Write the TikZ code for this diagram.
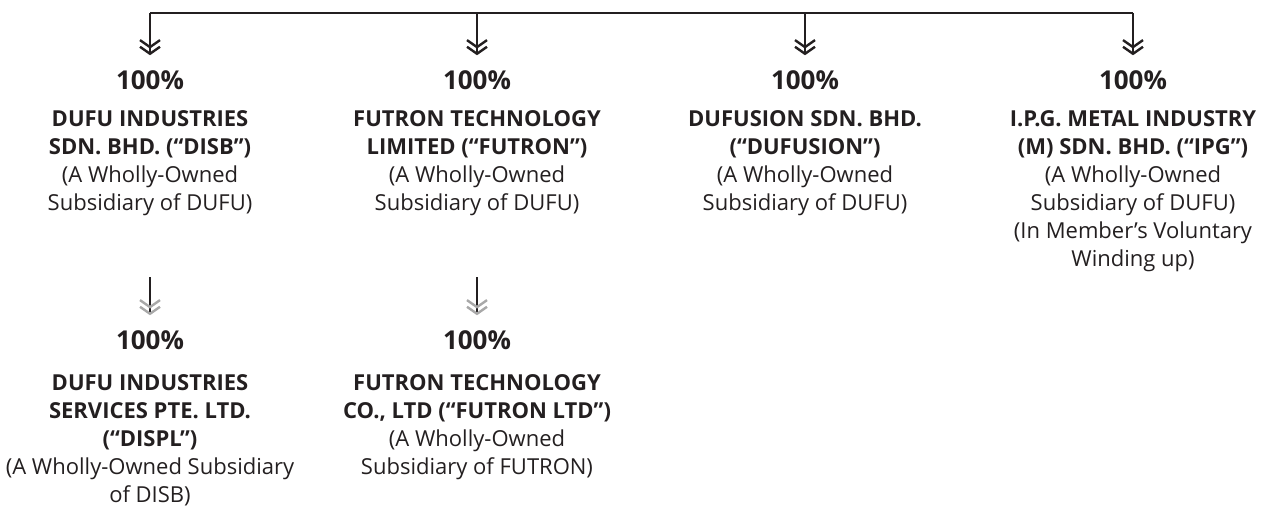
\documentclass[tikz,border=0pt]{standalone}
\usepackage{fontspec}
\setmainfont{Open Sans}
\usetikzlibrary{arrows.meta}
\definecolor{ink}{HTML}{231F20}
\definecolor{tipgrey}{HTML}{A8A8A8}
\begin{document}
\begin{tikzpicture}[x=1pt,y=-1pt,
  pct/.style={font=\fontsize{26}{30}\selectfont\bfseries, text=ink, inner sep=0pt},
  co/.style={align=center, inner sep=0pt, text=ink, font=\fontsize{22}{28}\selectfont},
  rail/.style={draw=ink, line width=1.1pt},
  link/.style={draw=ink, line width=1.1pt, shorten >=15pt,
    -{Straight Barb[length=7pt,width=20pt,line width=2.4pt,sep=-3pt]Straight Barb[length=7pt,width=20pt,line width=2.4pt]}},
  sublink/.style={draw=ink, line width=1.1pt, shorten >=15pt,
    -{Straight Barb[length=7pt,width=20pt,line width=2.4pt,sep=-3pt,color=tipgrey]Straight Barb[length=7pt,width=20pt,line width=2.4pt,color=tipgrey]}}
]
\useasboundingbox (0,0) rectangle (1274,511);

\coordinate (t1) at (150,13);
\coordinate (t2) at (477,13);
\coordinate (t3) at (805,13);
\coordinate (t4) at (1133,13);
\coordinate (b1) at (150,277);
\coordinate (b2) at (477,277);

\node[pct] (p1) at (150,80) {100\%};
\node[pct] (p2) at (477,80) {100\%};
\node[pct] (p3) at (805,80) {100\%};
\node[pct] (p4) at (1133,80) {100\%};
\node[pct] (p5) at (150,340) {100\%};
\node[pct] (p6) at (477,340) {100\%};

\node[co, anchor=north] (c1) at (150,110) {\textbf{DUFU INDUSTRIES}\\\textbf{SDN. BHD. (“DISB”)}\\(A Wholly-Owned\\Subsidiary of DUFU)};
\node[co, anchor=north] (c2) at (477,110) {\textbf{FUTRON TECHNOLOGY}\\\textbf{LIMITED (“FUTRON”)}\\(A Wholly-Owned\\Subsidiary of DUFU)};
\node[co, anchor=north] (c3) at (805,110) {\textbf{DUFUSION SDN. BHD.}\\\textbf{(“DUFUSION”)}\\(A Wholly-Owned\\Subsidiary of DUFU)};
\node[co, anchor=north] (c4) at (1133,110) {\textbf{I.P.G. METAL INDUSTRY}\\\textbf{(M) SDN. BHD. (“IPG”)}\\(A Wholly-Owned\\Subsidiary of DUFU)\\(In Member’s Voluntary\\Winding up)};
\node[co, anchor=north] (c5) at (150,374) {\textbf{DUFU INDUSTRIES}\\\textbf{SERVICES PTE. LTD.}\\\textbf{(“DISPL”)}\\(A Wholly-Owned Subsidiary\\of DISB)};
\node[co, anchor=north] (c6) at (477,374) {\textbf{FUTRON TECHNOLOGY}\\\textbf{CO., LTD (“FUTRON LTD”)}\\(A Wholly-Owned\\Subsidiary of FUTRON)};

\draw[rail] (t1) -- (t4);
\draw[link] (t1) -- (p1.north);
\draw[link] (t2) -- (p2.north);
\draw[link] (t3) -- (p3.north);
\draw[link] (t4) -- (p4.north);
\draw[sublink] (b1) -- (p5.north);
\draw[sublink] (b2) -- (p6.north);
\end{tikzpicture}
\end{document}
